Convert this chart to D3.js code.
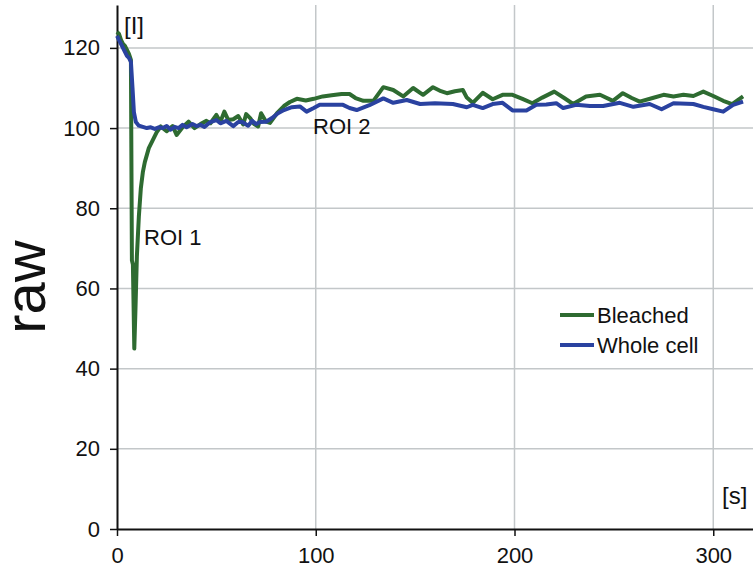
<!DOCTYPE html>
<html>
<head>
<meta charset="utf-8">
<script src="https://cdn.jsdelivr.net/npm/d3@7"></script>
<style>
  body { margin: 0; background: #fff; }
  text { font-family: "Liberation Sans", Arial, sans-serif; fill: #111; }
</style>
</head>
<body>
<script>
// bleached ROI
var bleachedTime = [0,1,2,3,4,5,6,7,7.5,8,8.7,9.3,10,11,12,13,14,16,18,20,22,25,28,30,33,36,39,42,45,47,50,52,54,56,58.5,61,63.5,65,67,69,71,72.5,75,77,80.5,84,87,90.5,95,99,103.5,108,113,117,120,124,129,134,139,144,149,154,159,163,166,170,174,176,179,184,189,194,199,204,209,214,220,225,229.5,236,243,249.5,254.5,259,263,269.5,275,280,285,290,295,300,305,309.5,315];
var bleachedValue = [124,123.5,122,121,120.5,119.5,118.5,117,67,66,45,55,68,78,85,89,91.5,95,97,99,100.4,99.2,100.5,98.3,100.2,101.6,100,101,101.8,101.2,103.3,101.5,104.1,102,102.2,103,100.9,103.5,102.5,101,100.4,103.7,101.6,101.3,103.7,105.5,106.5,107.3,106.9,107.3,107.9,108.2,108.5,108.5,107.5,106.8,106.8,110.2,109.5,107.9,110,108.3,110.2,109.2,108.7,109.2,109.5,107.6,106.3,108.8,107.2,108.3,108.3,107.3,106.2,107.6,109.1,107.5,106,107.9,108.3,106.8,108.7,107.5,106.6,107.5,108.3,107.9,108.3,108,109.1,108,106.8,106,107.9];

// whole cell
var wholeTime = [0,1,2,3,4,5,6,7,7.8,8.5,9.5,11,13,15,17,19,21,23,25,27,29,31,33,35,38,40,42,44,47,50,52,55,58.5,61,63,66,68,70,72,75,78,81,84,88,92,95.4,99,102,108,113.7,117,120.6,127,134,139,145.8,152.5,160,169,176,179,184,189,194,199,206,211,216,221,224.5,231,238,244.6,253,259.8,268,274,280,290,295,300,305,310,315];
var wholeValue = [123,122,121,120,119,118,117.5,116.5,110,104,101.5,100.6,100.3,100,100.2,99.8,100.2,100,100.5,99.6,100.3,100,100.8,100.2,101,100.5,100.8,100.3,101.5,102,101.2,101.8,100.5,101.5,101.5,100.6,101.8,101,101.5,101.6,102.5,103.7,104.5,105.2,105.4,104.1,105,105.8,105.8,105.8,105,104.5,105.7,107.4,106.3,107,106,106.2,106,105.2,105.8,105,106,106.3,104.4,104.4,105.8,105.9,106.2,105,105.8,105.5,105.5,106.3,105.3,106,104.7,106.2,106,105.3,104.7,104.1,105.8,106.6];

var seriesNames = ["Bleached", "Whole cell"];
var seriesColors = ["#2e6b31", "#2a42a0"];
var xTicks = [0, 100, 200, 300];
var yTicks = [0, 20, 40, 60, 80, 100, 120];

var w = 753, h = 581;
var plotLeft = 117, plotRight = 753, plotTop = 5, plotBottom = 529;

var svg = d3.select("body").append("svg")
  .attr("width", w)
  .attr("height", h);

var x = d3.scaleLinear().domain([0, 320]).range([plotLeft, plotRight]);
var y = d3.scaleLinear().domain([0, 130.7]).range([plotBottom, plotTop]);

// grid
svg.append("g").selectAll("line").data(yTicks.slice(1)).enter().append("line")
  .attr("x1", plotLeft).attr("x2", plotRight)
  .attr("y1", function(d){ return y(d); }).attr("y2", function(d){ return y(d); })
  .attr("stroke", "#c3c7c9").attr("stroke-width", 1.5);
svg.append("g").selectAll("line").data(xTicks.slice(1)).enter().append("line")
  .attr("y1", plotTop).attr("y2", plotBottom)
  .attr("x1", function(d){ return x(d); }).attr("x2", function(d){ return x(d); })
  .attr("stroke", "#c3c7c9").attr("stroke-width", 1.5);

// axes
var xAxis = svg.append("g")
  .attr("transform", "translate(0," + plotBottom + ")")
  .call(d3.axisBottom(x).tickValues(xTicks).tickSize(7).tickSizeOuter(0).tickPadding(11));
var yAxis = svg.append("g")
  .attr("transform", "translate(" + plotLeft + ",0)")
  .call(d3.axisLeft(y).tickValues(yTicks).tickSize(7).tickSizeOuter(0).tickPadding(10));
[xAxis, yAxis].forEach(function(a){
  a.select(".domain").attr("stroke", "#111").attr("stroke-width", 2);
  a.selectAll(".tick line").attr("stroke", "#111").attr("stroke-width", 1.5);
  a.selectAll(".tick text").attr("font-size", 22).attr("fill", "#111")
    .attr("font-family", "'Liberation Sans', Arial, sans-serif");
});

// lines
var line = d3.line()
  .x(function(d){ return x(d[0]); })
  .y(function(d){ return y(d[1]); });

var bleached = bleachedTime.map(function(t, i){ return [t, bleachedValue[i]]; });
var whole = wholeTime.map(function(t, i){ return [t, wholeValue[i]]; });

[bleached, whole].forEach(function(data, i){
  svg.append("path")
    .datum(data)
    .attr("d", line)
    .attr("fill", "none")
    .attr("stroke", seriesColors[i])
    .attr("stroke-width", 4)
    .attr("stroke-linejoin", "round");
});

// labels
svg.append("text").attr("x", 124).attr("y", 34).attr("font-size", 24).text("[I]");
svg.append("text").attr("x", 722).attr("y", 504).attr("font-size", 24).text("[s]");
svg.append("text").attr("x", 144).attr("y", 245).attr("font-size", 22).text("ROI 1");
svg.append("text").attr("x", 313).attr("y", 134).attr("font-size", 22).text("ROI 2");
svg.append("text")
  .attr("transform", "translate(45,287) rotate(-90)")
  .attr("text-anchor", "middle")
  .attr("font-size", 58)
  .text("raw");

// legend
var legend = svg.append("g");
seriesNames.forEach(function(name, i){
  var ly = 315 + i * 30;
  legend.append("line")
    .attr("x1", 560).attr("x2", 594).attr("y1", ly).attr("y2", ly)
    .attr("stroke", seriesColors[i]).attr("stroke-width", 4);
  legend.append("text")
    .attr("x", 597).attr("y", ly + 8)
    .attr("font-size", 22)
    .text(name);
});
</script>
</body>
</html>
